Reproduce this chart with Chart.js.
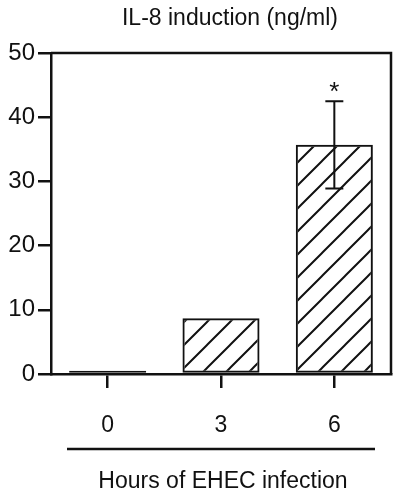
<!DOCTYPE html>
<html>
<head>
<meta charset="utf-8">
<script src="https://cdn.jsdelivr.net/npm/chart.js@4"></script>
<style>
  html, body { margin: 0; padding: 0; background: #fff; }
  #wrap { width: 400px; height: 495px; }
</style>
</head>
<body>
<div id="wrap"><canvas id="il8Chart" width="400" height="495"></canvas></div>
<script>
// ==================== DATA ====================
const hours = ['0', '3', '6'];
const il8Values = [0.5, 8.7, 35.7];
const il8Errors = [0, 0, 6.8];
const sigMarks = ['', '', '*'];
const yTicks = [0, 10, 20, 30, 40, 50];

const chartTitle = 'IL-8 induction (ng/ml)';
const xTitle = 'Hours of EHEC infection';
const FONT = "'Liberation Sans', Arial, sans-serif";

// Diagonal "/" hatch used for the bars
function makeHatch() {
    const p = 23;
    const c = document.createElement('canvas');
    c.width = p; c.height = p;
    const g = c.getContext('2d');
    g.strokeStyle = '#111';
    g.lineWidth = 2;
    g.beginPath();
    g.moveTo(0, p); g.lineTo(p, 0);
    g.moveTo(-2, 2); g.lineTo(2, -2);
    g.moveTo(p - 2, p + 2); g.lineTo(p + 2, p - 2);
    g.stroke();
    return g.createPattern(c, 'repeat');
}
const hatch = makeHatch();

// Frame, error bars, asterisk, titles
const extrasPlugin = {
    id: 'extras',
    afterDatasetsDraw(chart) {
        const { ctx, chartArea: a, scales: { x, y } } = chart;
        ctx.save();
        ctx.strokeStyle = '#111';
        ctx.fillStyle = '#111';

        // top + right border of the frame
        ctx.lineWidth = 2.5;
        ctx.beginPath();
        ctx.moveTo(a.left, a.top);
        ctx.lineTo(a.right, a.top);
        ctx.lineTo(a.right, a.bottom);
        ctx.stroke();

        // error bars
        il8Values.forEach((v, i) => {
            const e = il8Errors[i];
            if (!e) return;
            const cx = x.getPixelForValue(i);
            const yt = y.getPixelForValue(v + e);
            const yb = y.getPixelForValue(v - e);
            ctx.lineWidth = 2;
            ctx.beginPath();
            ctx.moveTo(cx, yt); ctx.lineTo(cx, yb);
            ctx.moveTo(cx - 9, yt); ctx.lineTo(cx + 9, yt);
            ctx.moveTo(cx - 9, yb); ctx.lineTo(cx + 9, yb);
            ctx.stroke();
        });

        // significance marks
        ctx.font = '26px ' + FONT;
        ctx.textAlign = 'center';
        ctx.textBaseline = 'alphabetic';
        sigMarks.forEach((m, i) => {
            if (!m) return;
            const cx = x.getPixelForValue(i);
            const yt = y.getPixelForValue(il8Values[i] + il8Errors[i]);
            ctx.fillText(m, cx, yt - 1);
        });

        // chart title
        ctx.font = '23px ' + FONT;
        ctx.textBaseline = 'middle';
        ctx.fillText(chartTitle, 230, 19);

        // underline and x title
        ctx.lineWidth = 2.5;
        ctx.beginPath();
        ctx.moveTo(67, 449);
        ctx.lineTo(375, 449);
        ctx.stroke();
        ctx.font = '23px ' + FONT;
        ctx.fillText(xTitle, 223, 482);
        ctx.restore();
    }
};

new Chart(document.getElementById('il8Chart'), {
    type: 'bar',
    data: {
        labels: hours,
        datasets: [{
            label: chartTitle,
            data: il8Values,
            // very short bars print as a solid black strip
            backgroundColor: c => (c.raw !== undefined && c.raw < 2) ? '#111' : hatch,
            borderColor: '#111',
            borderWidth: 2,
            borderSkipped: false,
            barPercentage: 0.68,
            categoryPercentage: 1.0
        }]
    },
    options: {
        responsive: false,
        animation: false,
        layout: { padding: { left: 0, right: 9, top: 53, bottom: 0 } },
        plugins: {
            legend: { display: false },
            tooltip: { enabled: false }
        },
        scales: {
            x: {
                grid: { offset: false, drawOnChartArea: false, drawTicks: true, tickLength: 14, color: '#111', lineWidth: 2.5 },
                border: { display: true, color: '#111', width: 2.5 },
                ticks: { color: '#111', font: { family: FONT, size: 23 }, padding: 24 },
                afterFit: s => { s.height = 121; }
            },
            y: {
                min: 0, max: 50,
                afterBuildTicks: s => { s.ticks = yTicks.map(v => ({ value: v })); },
                grid: { drawOnChartArea: false, drawTicks: true, tickLength: 13, color: '#111', lineWidth: 2.5 },
                border: { display: true, color: '#111', width: 2.5 },
                ticks: { color: '#111', font: { family: FONT, size: 24 }, padding: 3 },
                afterFit: s => { s.width = 51; }
            }
        }
    },
    plugins: [extrasPlugin]
});
</script>
</body>
</html>
